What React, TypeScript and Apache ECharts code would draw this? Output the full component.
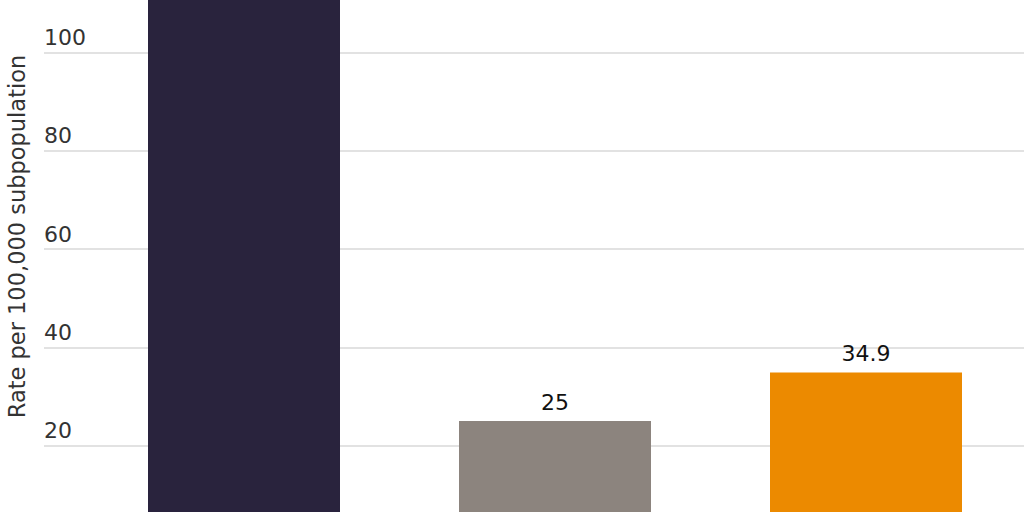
import React, { useEffect, useRef } from 'react'
import * as echarts from 'echarts'

// Chart data (the picture is cropped: first bar runs past the top, axis labels below the bottom)
const categories = ['Group 1', 'Group 2', 'Group 3']
const rates = [140, 25, 34.9]
const barColors = ['#29233d', '#8c847e', '#ec8a00']
const yTicks = [0, 20, 40, 60, 80, 100, 120]

const FONT = '"DejaVu Sans", "Liberation Sans", sans-serif'

const App: React.FC = () => {
  const chartRef = useRef<HTMLDivElement>(null)

  useEffect(() => {
    if (!chartRef.current) return
    const chart = echarts.init(chartRef.current, undefined, { renderer: 'svg' })

    const yMin = yTicks[0]
    const yMax = yTicks[yTicks.length - 1]
    const step = yTicks[1] - yTicks[0]

    const option: echarts.EChartsOption = {
      animation: false,
      backgroundColor: '#ffffff',
      grid: [
        // gridlines and tick labels
        { left: 44, right: 0, top: 0, bottom: 0, containLabel: false, outerBoundsMode: 'none' },
        // bars
        { left: 88.5, width: 933, top: 0, bottom: 0, containLabel: false, outerBoundsMode: 'none' },
      ] as any,
      xAxis: [
        { gridIndex: 0, type: 'category', data: categories, show: false },
        {
          gridIndex: 1,
          type: 'category',
          data: categories,
          axisLine: { show: false },
          axisTick: { show: false },
          axisLabel: { show: false },
        },
      ],
      yAxis: [
        {
          gridIndex: 0,
          type: 'value',
          min: yMin,
          max: yMax,
          interval: step,
          axisLine: { show: false },
          axisTick: { show: false },
          splitLine: { lineStyle: { color: '#d9d9d9', width: 1.5 } },
          axisLabel: {
            inside: true,
            margin: 0,
            align: 'left',
            verticalAlign: 'bottom',
            padding: [0, 0, 4, 0],
            showMinLabel: false,
            showMaxLabel: false,
            fontFamily: FONT,
            fontSize: 22,
            color: '#333333',
          },
        },
        {
          gridIndex: 1,
          type: 'value',
          min: yMin,
          max: yMax,
          interval: step,
          show: false,
          splitLine: { show: false },
        },
      ],
      graphic: [
        {
          type: 'text',
          x: 17,
          y: 236.5 + 46,
          rotation: Math.PI / 2,
          style: {
            text: 'Rate per 100,000 subpopulation',
            fontFamily: FONT,
            fontSize: 22.5,
            fill: '#333333',
            align: 'center',
            verticalAlign: 'middle',
          },
        },
      ],
      series: [
        {
          type: 'bar',
          xAxisIndex: 1,
          yAxisIndex: 1,
          barWidth: 192,
          data: rates.map((v, i) => ({
            value: v,
            itemStyle: { color: barColors[i] },
            // the first bar's label sits above the cropped area
            label: { show: v <= yMax },
          })),
          label: {
            show: true,
            position: 'top',
            distance: 8,
            fontFamily: FONT,
            fontSize: 22,
            color: '#111111',
          },
        },
      ],
    }

    chart.setOption(option)
    return () => {
      chart.dispose()
    }
  }, [])

  return (
    <div
      style={{
        position: 'absolute',
        left: 0,
        top: 0,
        width: 1024,
        height: 512,
        overflow: 'hidden',
        background: '#ffffff',
      }}
    >
      <div
        ref={chartRef}
        style={{ position: 'absolute', left: 0, top: -46, width: 1024, height: 589.5 }}
      />
    </div>
  )
}

export default App
